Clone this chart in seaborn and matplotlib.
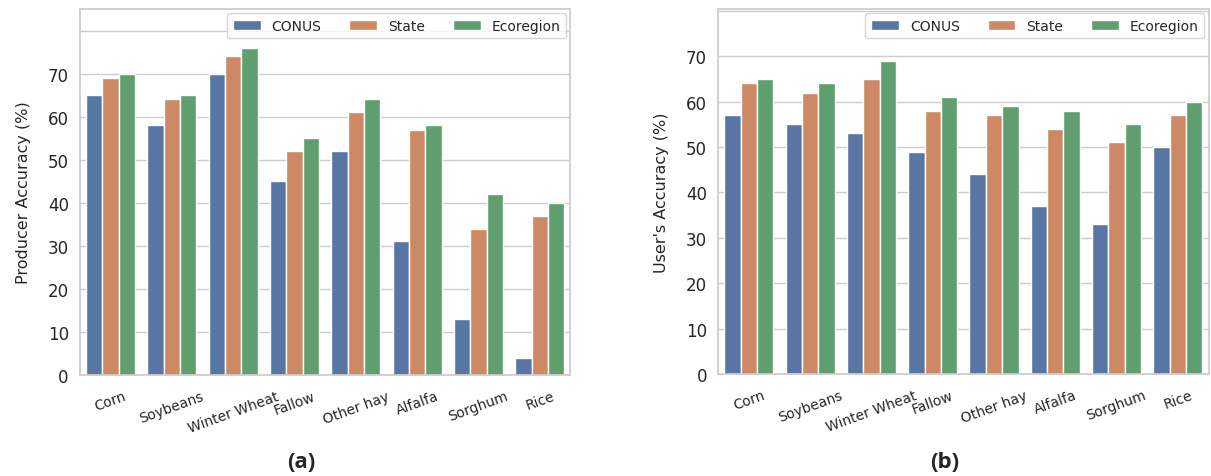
import pandas as pd
import numpy as np
import matplotlib
matplotlib.use("Agg")
import matplotlib.pyplot as plt
import seaborn as sns

# crops and accuracy values (%)
crops = ["Corn", "Soybeans", "Winter Wheat", "Fallow", "Other hay", "Alfalfa", "Sorghum", "Rice"]
levels = ["CONUS", "State", "Ecoregion"]

prod_conus = [65, 58, 70, 45, 52, 31, 13, 4]
prod_state = [69, 64, 74, 52, 61, 57, 34, 37]
prod_eco = [70, 65, 76, 55, 64, 58, 42, 40]

user_conus = [57, 55, 53, 49, 44, 37, 33, 50]
user_state = [64, 62, 65, 58, 57, 54, 51, 57]
user_eco = [65, 64, 69, 61, 59, 58, 55, 60]


def make_df(a, b, c):
    rows = []
    for lev, vals in zip(levels, [a, b, c]):
        for crop, v in zip(crops, vals):
            rows.append({"crop": crop, "level": lev, "acc": v})
    return pd.DataFrame(rows)


prod = make_df(prod_conus, prod_state, prod_eco)
user = make_df(user_conus, user_state, user_eco)

sns.set_theme(style="whitegrid", palette="deep")

fig = plt.figure(figsize=(12.11, 4.77), dpi=100)
ax1 = fig.add_axes([0.066, 0.212, 0.405, 0.767])
ax2 = fig.add_axes([0.593, 0.214, 0.405, 0.765])

for ax, df, ylab, top, lab, xl in [
    (ax1, prod, "Producer Accuracy (%)", 85, "(a)", 0.249),
    (ax2, user, "User's Accuracy (%)", 80.4, "(b)", 0.78),
]:
    sns.barplot(data=df, x="crop", y="acc", hue="level", ax=ax,
                edgecolor="white", linewidth=1)
    ax.set_ylim(0, top)
    ax.set_yticks(np.arange(0, 90, 10))
    ax.set_yticklabels([str(t) if t < 80 else "" for t in range(0, 90, 10)], fontsize=12)
    ax.set_xlabel("")
    ax.set_ylabel(ylab, fontsize=11.5, labelpad=12)
    ax.tick_params(axis="x", labelsize=10, rotation=20, pad=4)
    ax.tick_params(axis="y", pad=2)
    ax.legend(loc="upper right", ncol=3, fontsize=10, frameon=True,
              borderaxespad=0.3, columnspacing=2.0)
    fig.text(xl, 0.018, lab, fontsize=16, fontweight="bold", ha="center",
             family="Open Sans")

fig.savefig("out.png", dpi=100)
